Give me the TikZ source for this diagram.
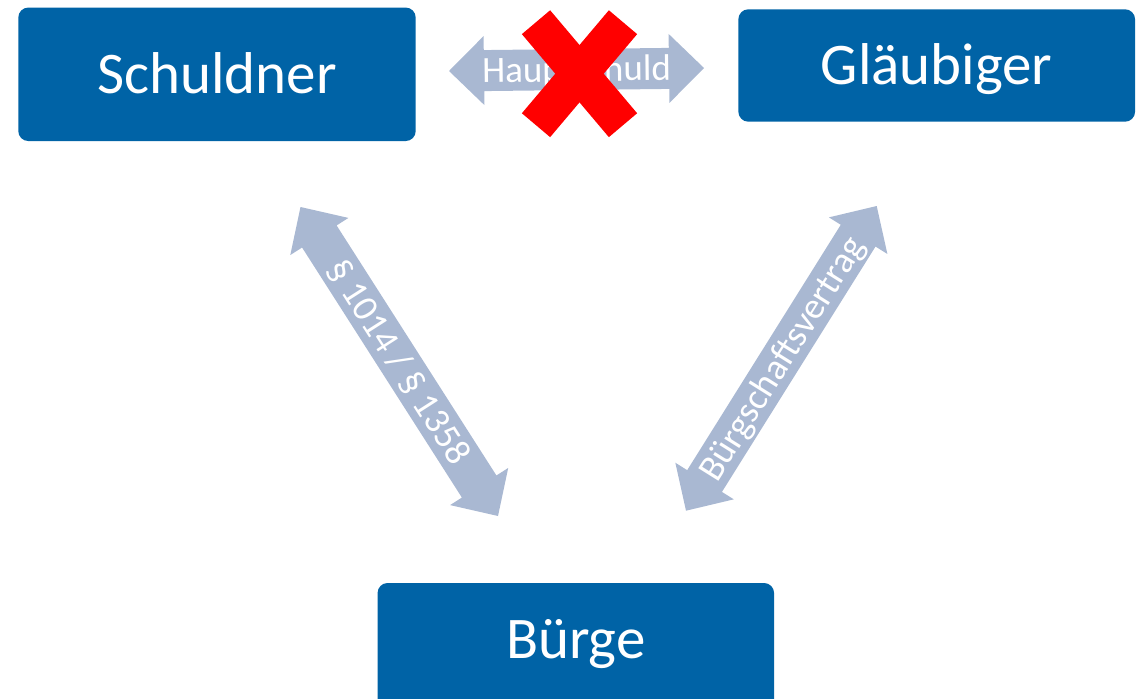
\documentclass[tikz,border=0pt]{standalone}
\usepackage{fontspec}
\setmainfont{Carlito}
\usetikzlibrary{calc}

\definecolor{boxblue}{RGB}{0,99,166}
\definecolor{arrowgray}{RGB}{169,184,210}
\definecolor{crossred}{RGB}{255,0,0}

% dimensions of the broad double-headed arrows
\newcommand\fahead{35pt}
\newcommand\fahalf{34.5pt}
\newcommand\fashaft{20.5pt}

% broad double-headed arrow between two named points (#1, #2); #3 prefixes helper coordinates
\newcommand\drawfatarrow[3]{%
  \coordinate (#3a) at ($(#1)!\fahead!(#2)$);
  \coordinate (#3b) at ($(#2)!\fahead!(#1)$);
  \fill[arrowgray] (#1)
    -- ($(#3a)!\fahalf!90:(#2)$) -- ($(#3a)!\fashaft!90:(#2)$)
    -- ($(#3b)!\fashaft!-90:(#1)$) -- ($(#3b)!\fahalf!-90:(#1)$)
    -- (#2)
    -- ($(#3b)!\fahalf!90:(#1)$) -- ($(#3b)!\fashaft!90:(#1)$)
    -- ($(#3a)!\fashaft!-90:(#2)$) -- ($(#3a)!\fahalf!-90:(#2)$)
    -- cycle;
}

\tikzset{
  party/.style={fill=boxblue, rounded corners=10pt, inner sep=0pt, text=white,
    font=\fontsize{59}{61}\selectfont, text height=38pt, text depth=0pt},
  rellabel/.style={text=white, inner sep=0pt, font=\fontsize{37}{40}\selectfont,
    text height=24pt, text depth=0pt},
  crossbar/.style={crossred, line width=37pt},
}

\begin{document}
\begin{tikzpicture}[x=1pt,y=-1pt]
\clip (0,0) rectangle (1147,698);

% the three parties
\node[party, minimum width=397.4pt, minimum height=133.5pt] (schuldner) at (217,74.3) {Schuldner};
\node[party, minimum width=396.7pt, minimum height=112.4pt] (glaeubiger) at (936.7,65.5) {Gläubiger};
\node[party, minimum width=396.5pt, minimum height=140pt, text depth=27pt] (buerge) at (575.8,653) {Bürge};

% arrow end points
\coordinate (hs1) at (449,71);
\coordinate (hs2) at (704,68);
\coordinate (sb1) at (300.5,207);
\coordinate (sb2) at (498,516);
\coordinate (gb1) at (686,510.7);
\coordinate (gb2) at (876.7,206);

% relations
\drawfatarrow{hs1}{hs2}{hs}
\path (hs1) -- (hs2) node[midway, sloped, rellabel] (lblhaupt) {Hauptschuld};

\drawfatarrow{sb1}{sb2}{sb}
\path (sb1) -- (sb2) node[midway, sloped, rellabel] (lblsb) {§ 1014 / § 1358};

\drawfatarrow{gb1}{gb2}{gb}
\path (gb1) -- (gb2) node[midway, sloped, rellabel] (lblgb) {Bürgschaftsvertrag};

% the main debt relation is crossed out
\coordinate (xmark) at (579.5,73.7);
\draw[crossbar] ($(xmark)+(-43.5,-51.5)$) -- ($(xmark)+(43.5,51.5)$);
\draw[crossbar] ($(xmark)+(43.5,-51.5)$) -- ($(xmark)+(-43.5,51.5)$);
\end{tikzpicture}
\end{document}
